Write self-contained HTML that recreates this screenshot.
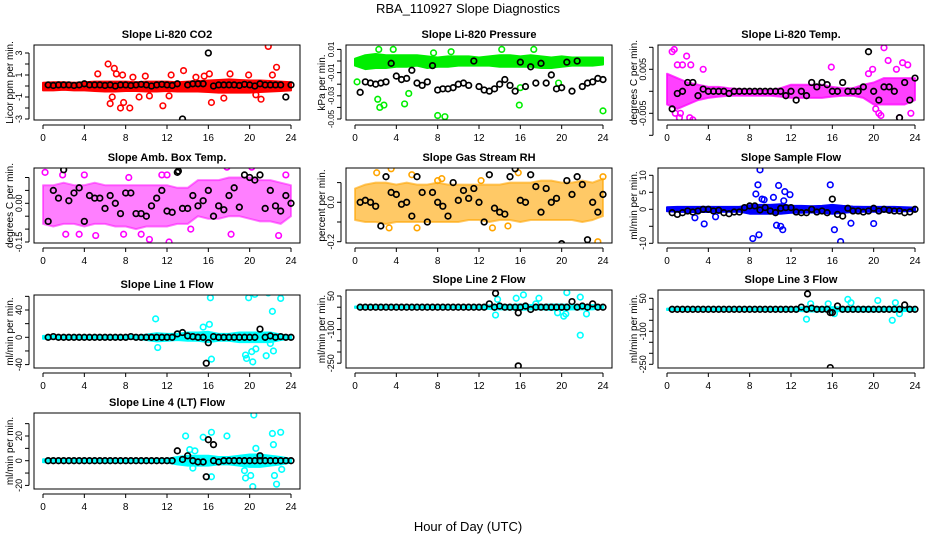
<!DOCTYPE html>
<html><head><meta charset="utf-8"><style>
html,body{margin:0;padding:0;background:#fff}
svg{display:block;font-family:"Liberation Sans",sans-serif}
</style></head><body>
<svg id="chart" width="936" height="540" viewBox="0 0 936 540">
<text x="468" y="13" text-anchor="middle" font-size="13">RBA_110927  Slope Diagnostics</text>
<text x="468" y="531" text-anchor="middle" font-size="13">Hour of Day (UTC)</text>
</svg>
<script>
// ---- shared data ----
const hoursBlack=[0.5,1,1.5,2,2.5,3,3.5,4,4.5,5,5.5,6,6.5,7,7.5,8,8.5,9,9.5,10,10.5,11,11.5,12,12.5,13,13.5,14,14.5,15,15.5,16,16.5,17,17.5,18,18.5,19,19.5,20,20.5,21,21.5,22,22.5,23,23.5,24];
const bandHours=[0,1,2,3,4,5,6,7,8,9,10,11,12,13,14,15,16,17,18,19,20,21,22,23,24];
const xTicks=[0,4,8,12,16,20,24];

// ---- CO2 ----
const co2Black=[0.1,0.05,0.1,0.1,0.1,0.05,0.1,0.2,0.1,0.1,0.1,0.05,0.1,0,0.1,0.1,0.05,0.1,0.15,0.1,0,0.1,0.15,0.1,0.05,0.2,-3,0.1,0.2,0.2,0.2,3,0,0.1,0.1,0.1,0.1,0.05,0.15,0.1,0,0.2,0.1,0.1,0.1,0.1,-1,0.1];
const co2Hi=[0.3,0.35,0.35,0.3,0.35,0.4,0.4,0.4,0.4,0.35,0.4,0.4,0.4,0.35,0.4,0.45,0.5,0.55,0.6,0.55,0.5,0.5,0.45,0.4,0.35];
const co2Lo=[-0.4,-0.4,-0.35,-0.4,-0.4,-0.45,-0.5,-0.5,-0.45,-0.45,-0.5,-0.5,-0.45,-0.5,-0.5,-0.5,-0.55,-0.6,-0.6,-0.6,-0.6,-0.55,-0.5,-0.45,-0.4];
const co2OutX=[5.3,6.3,6.5,6.7,6.9,7.1,7.5,7.8,7.7,8.4,8.7,9.3,9.9,10.3,11.6,12.2,12.4,13.6,15.6,16.1,16.3,17.5,18.1,19.9,20.6,21.1,21.8,22.6,22.2,14.8];
const co2OutY=[1.1,2,-1.6,-1,1.6,1.1,-2,-1.5,1,-2,0.8,-1,0.9,-0.9,-1.8,-0.9,1,1.4,0.9,1.1,-1.5,-1.1,1.1,1,-0.8,-1.2,3.6,1.7,1,0.8];
const co2BOutX=[];const co2BOutY=[];

// ---- Pressure ----
const prBlack=[-0.027,-0.018,-0.019,-0.02,-0.019,-0.018,-0.002,-0.013,-0.016,-0.015,-0.008,-0.019,-0.021,-0.018,-0.004,-0.025,-0.024,-0.024,-0.023,-0.02,-0.019,-0.021,0,-0.022,-0.025,-0.026,-0.024,-0.02,-0.016,-0.021,-0.026,-0.001,-0.022,-0.005,-0.019,-0.002,-0.019,-0.012,-0.024,-0.023,-0.001,-0.026,0,-0.022,-0.019,-0.018,-0.015,-0.016];
const prHi=[0.002,0.005,0.006,0.005,0.005,0.005,0.005,0.004,0.003,0.004,0.004,0.004,0.003,0.004,0.005,0.005,0.004,0.005,0.004,0.003,0.004,0.003,0.003,0.003,0.003];
const prLo=[-0.004,-0.007,-0.006,-0.006,-0.005,-0.005,-0.004,-0.006,-0.005,-0.005,-0.004,-0.004,-0.004,-0.004,-0.005,-0.005,-0.005,-0.005,-0.006,-0.006,-0.005,-0.004,-0.004,-0.004,-0.003];
const prOutX=[0.2,2.2,2.4,2.8,3.6,3.7,4.7,4.8,5.2,5.8,8,8.7,9.3,14.2,15.9,16,17.3,17.8,19.7,24,2.3,7.6];
const prOutY=[-0.018,-0.033,-0.04,-0.038,-0.054,0.01,0,-0.037,-0.028,0,-0.047,-0.048,0.008,0.01,-0.038,-0.023,0.01,-0.059,-0.019,-0.043,0.01,0.007];
const prBOutX=[];const prBOutY=[];

// ---- Li-820 Temp ----
const tpBlack=[-0.004,-0.0005,0,0.002,0.002,-0.001,0.0005,0,0,0,0,-0.0005,0,0,0,0,0,0,0,0,0,0,-0.001,0,-0.002,0,-0.001,0.002,0.001,0.002,0.0015,0,0,0.002,0,0,0,0.001,0.009,0,-0.002,0.001,0.001,0,-0.006,0.002,-0.002,0.003];
const tpHi=[0.004,0.003,0.002,0.0015,0.001,0.001,0.0007,0.0005,0.0003,0.0003,0.0003,0.0007,0.0015,0.0015,0.0015,0.0015,0.001,0.0007,0.0007,0.0015,0.002,0.003,0.003,0.003,0.003];
const tpLo=[-0.003,-0.004,-0.003,-0.002,-0.0015,-0.0012,-0.001,-0.001,-0.001,-0.001,-0.001,-0.0012,-0.0015,-0.0015,-0.0015,-0.0015,-0.0012,-0.001,-0.001,-0.0015,-0.003,-0.003,-0.003,-0.003,-0.002];
const tpOutX=[0.5,0.7,1,1.2,1.5,1.9,2.2,2.5,3.5,2.3,1.3,0.8,15.9,19.5,19.9,20.2,20.5,21,21.4,22.2,22.8,23.3,23.6,22.5,20.7];
const tpOutY=[0.009,0.0095,0.006,-0.006,0.006,0.008,-0.006,-0.0065,0.005,0.006,-0.005,-0.005,0.0055,0.004,0.005,-0.004,-0.005,0.0099,0.007,0.005,0.0065,0.006,-0.005,-0.006,-0.0055];
const tpBOutX=[];const tpBOutY=[];

// ---- Amb Box Temp ----
const amBlack=[-0.07,0.05,0.02,0.13,0.01,0.04,0.06,-0.07,0.03,0.02,0.02,-0.02,0.03,0,-0.04,0.04,0.04,-0.04,-0.04,-0.05,-0.01,0.02,0.05,-0.03,-0.035,0.12,-0.02,-0.02,0.03,-0.01,0.01,0.05,-0.05,-0.01,-0.025,0.03,0.06,-0.015,0.11,0.1,0.09,0.11,-0.02,0.05,-0.01,-0.03,0.03,0];
const amHi=[0.07,0.07,0.08,0.07,0.07,0.08,0.07,0.07,0.07,0.07,0.07,0.07,0.07,0.06,0.06,0.09,0.09,0.09,0.1,0.1,0.1,0.09,0.09,0.08,0.07];
const amLo=[-0.08,-0.09,-0.08,-0.08,-0.09,-0.08,-0.08,-0.09,-0.09,-0.1,-0.09,-0.09,-0.09,-0.08,-0.08,-0.05,-0.06,-0.06,-0.05,-0.05,-0.06,-0.07,-0.07,-0.08,-0.05];
const amOutX=[0.2,2.2,3.5,5.1,7.8,9.5,10.3,12.2,12,11.5,17.8,18.2,20.2,22.8,23.5,4,1.9,14.3,8.3];
const amOutY=[0.12,-0.12,-0.12,-0.125,-0.12,-0.12,-0.14,-0.15,0.11,0.11,0.14,-0.12,0.14,-0.125,0.11,0.11,0.11,-0.1,0.1];
const amBOutX=[13.1];const amBOutY=[0.125];

// ---- Gas Stream RH ----
const rhBlack=[0,0.01,0,-0.02,-0.12,0.13,0.05,0.04,-0.01,0,-0.07,0.13,0.05,-0.1,0.05,0,-0.02,-0.07,0.1,0.01,0.06,0.02,0.07,0,-0.1,0.14,-0.03,-0.05,-0.06,0.13,0.17,0.01,0,0.14,0.08,-0.05,0.07,0,0.02,-0.21,0.11,0.04,0.13,0.09,-0.19,0,-0.05,0.04];
const rhHi=[0.07,0.09,0.1,0.1,0.09,0.1,0.09,0.09,0.1,0.09,0.09,0.09,0.09,0.09,0.09,0.1,0.1,0.1,0.11,0.11,0.1,0.1,0.11,0.1,0.12];
const rhLo=[-0.09,-0.1,-0.1,-0.11,-0.1,-0.1,-0.1,-0.1,-0.1,-0.1,-0.1,-0.09,-0.09,-0.1,-0.09,-0.09,-0.1,-0.09,-0.09,-0.09,-0.09,-0.09,-0.1,-0.09,-0.07];
const rhOutX=[2.1,3.5,5.5,8,8.4,12.2,15.8,13.3,23.5,24,6,3.3,14.8];
const rhOutY=[0.15,0.17,0.14,0.11,0.12,0.11,0.15,-0.13,-0.2,0.13,-0.13,-0.13,-0.12];
const rhBOutX=[];const rhBOutY=[];

// ---- Sample Flow ----
const sfBlack=[-1,-1.5,-1,-0.5,-0.8,-0.5,0,0,-0.5,-0.3,-1,-1.3,-0.8,-0.8,0.5,1,1,-0.2,0.5,-0.5,-1,0.3,0.5,0.5,-0.8,-1,-1,0,-0.8,-0.5,-1,3,-1.5,-2,0.3,-0.5,-0.5,-0.8,-0.5,0.3,-0.5,0,-0.3,-0.5,-0.5,-1,-0.8,0];
const sfHi=[0.6,0.7,0.7,0.7,0.7,0.7,0.7,0.7,1.2,1.3,1.3,1.5,1,1,0.9,1,1.3,1,0.8,0.7,0.7,0.7,0.7,0.6,0.5];
const sfLo=[-0.6,-0.7,-0.8,-0.8,-0.8,-0.7,-0.7,-0.7,-1.3,-1.3,-1.3,-1.3,-1,-1,-0.9,-1,-1.3,-1,-0.8,-0.7,-0.7,-0.7,-0.6,-0.6,-0.5];
const sfOutX=[3.6,2.7,4.7,8.3,8.6,8.8,9,8.9,9.2,10.3,10.6,10.8,11,11.2,11.4,11.3,11.9,15.8,16.2,16.8,17.8,20,9.4];
const sfOutY=[-4.3,-2.5,-2.2,-8.6,4.5,7.2,11.6,-7.5,3,3.5,-4.7,7,-5,-6,5.2,2.5,4.3,7.2,-6,-9.5,-4.1,-4.2,2.8];
const sfBOutX=[];const sfBOutY=[];

// ---- Line 1 Flow ----
const l1Black=[0,1,0,0,0,0,0,0,0,0,0,0,0,0,0,0,1,0,0,0,0,0,0,0,0,5,7,2,1,0,0,-8,1,0,0,0,0,0,0,0,0,12,0,2,0,1,0,0];
const l1Hi=[2,2,2,2,2,2,2,2,2,2,4,6,5,5,7,7,8,5,5,7,7,7,7,4,2];
const l1Lo=[-2,-2,-2,-2,-2,-2,-2,-2,-2,-2,-4,-6,-5,-4,-5,-5,-7,-5,-5,-7,-7,-7,-7,-4,-2];
const l1OutX=[10.9,11.1,16.2,16.3,19.6,19.7,19.9,20.2,20.3,20.5,20.6,21.8,22,22.2,22.3,23,21.6,15.5,16.1];
const l1OutY=[27,-15,58,-32,-26,-31,58,-21,-36,63,-17,65,-9,38,-20,57,-27,15,19];
const l1BOutX=[15.8];const l1BOutY=[-38];

// ---- Line 2 Flow ----
const l2Black=[0,0,0,0,0,0,0,0,0,0,0,0,0,0,0,0,0,0,0,0,0,0,0,0,0,15,0,5,0,0,0,0,5,-10,0,0,0,0,0,0,0,25,0,5,0,15,0,0];
const l2Hi=[3,3,3,3,3,3,3,3,3,3,3,3,4,8,10,10,12,10,10,12,12,10,10,10,4];
const l2Lo=[-3,-3,-3,-3,-3,-3,-3,-3,-3,-3,-3,-3,-4,-8,-10,-10,-12,-10,-10,-12,-12,-10,-10,-10,-4];
const l2OutX=[13.6,13.8,15.6,16.3,17.8,19.6,20.2,20.4,20.5,21.8,21.8,22.4,17.5];
const l2OutY=[-35,35,40,55,40,-25,-40,-30,65,-125,45,-30,15];
const l2BOutX=[13.6,15.8,15.8];const l2BOutY=[62,-25,-262];

// ---- Line 3 Flow ----
const l3Black=[0,0,0,0,0,0,0,0,0,0,0,0,0,0,0,0,0,0,0,0,0,0,0,0,0,10,0,5,0,0,0,-15,15,0,0,0,0,0,0,0,0,0,0,0,0,20,0,0];
const l3Hi=[3,3,3,3,3,3,3,3,3,3,3,3,4,8,10,10,10,8,8,10,10,8,8,8,4];
const l3Lo=[-3,-3,-3,-3,-3,-3,-3,-3,-3,-3,-3,-3,-4,-8,-10,-10,-10,-8,-8,-10,-10,-8,-8,-8,-4];
const l3OutX=[13.5,13.9,15.6,17.5,17.8,20.4,21.8,22.1,22.5,16.2];
const l3OutY=[-45,25,25,45,30,40,-50,30,-20,-20];
const l3BOutX=[13.6,15.8,15.8];const l3BOutY=[70,-15,-265];

// ---- Line 4 Flow ----
const l4Black=[0,0,0,0,0,0,0,0,0,0,0,0,0,0,0,0,0,0,0,0,0,0,0,0,0,8,1,4,0,-1,-1,17,0,-1,0,0,0,0,0,0,0,0,0,0,0,0,0,0];
const l4Hi=[1.2,1.2,1.2,1.2,1.2,1.2,1.2,1.2,1.2,1.2,1.2,1.2,1.5,3,4,4,4,3,3,4,5,5,4,3,1.5];
const l4Lo=[-1.2,-1.2,-1.2,-1.2,-1.2,-1.2,-1.2,-1.2,-1.2,-1.2,-1.2,-1.2,-1.5,-3,-4,-4,-4,-3,-3,-4,-5,-5,-4,-3,-1.5];
const l4OutX=[13.8,14.2,14.7,16.3,16.3,15.5,17.8,19.5,19.6,20.1,20.3,20.4,20.6,22.2,22.3,22.4,22.6,23,23.1,14.5];
const l4OutY=[20,9,8,23,-13,19,20,-8,-14,-12,-21,37,10,22,13,-12,-19,23,-7,-6];
const l4BOutX=[15.8,16.5,21];const l4BOutY=[-13,13,4];

// ---- y ticks ----
const co2Ticks=[-3,-2,-1,0,1,2,3];const co2Labels=["-3","","-1","","1","","3"];
const prTicks=[0.01,0,-0.01,-0.02,-0.03,-0.04,-0.05];const prLabels=["0.01","","-0.01","","-0.03","","-0.05"];
const tpTicks=[0.01,0.005,0,-0.005,-0.01];const tpLabels=["","0.005","","-0.005",""];
const amTicks=[0.1,0.05,0,-0.05,-0.1,-0.15];const amLabels=["","","0.00","","","-0.15"];
const rhTicks=[0.1,0,-0.1,-0.2];const rhLabels=["","0.0","","-0.2"];
const sfTicks=[10,5,0,-5,-10];const sfLabels=["10","5","0","","-10"];
const l1Ticks=[60,40,20,0,-20,-40];const l1Labels=["","40","","0","","-40"];
const l2Ticks=[50,0,-50,-100,-150,-200,-250];const l2Labels=["50","","","-100","","","-250"];
const l4Ticks=[30,20,10,0,-10,-20];const l4Labels=["","20","","0","","-20"];

const panels=[
 {name:"co2",title:"Slope Li-820 CO2",ylab:"Licor ppm per min.",L:34,R:300,T:45,B:120,v0:0,p0:86,v1:3,p1:53,col:"#ff0000",op:1,fs:9,black:co2Black,hi:co2Hi,lo:co2Lo,ox:co2OutX,oy:co2OutY,bx:co2BOutX,by:co2BOutY,ticks:co2Ticks,labels:co2Labels},
 {name:"pressure",title:"Slope Li-820 Pressure",ylab:"kPa per min.",L:346,R:612,T:45,B:120,v0:0,p0:61,v1:-0.05,p1:119,col:"#00ee00",op:1,fs:8,black:prBlack,hi:prHi,lo:prLo,ox:prOutX,oy:prOutY,bx:prBOutX,by:prBOutY,ticks:prTicks,labels:prLabels},
 {name:"li820-temp",title:"Slope Li-820 Temp.",ylab:"degrees C per min.",L:658,R:924,T:45,B:120,v0:0,p0:91.3,v1:0.005,p1:69.3,col:"#ff00ff",op:0.75,fs:9,black:tpBlack,hi:tpHi,lo:tpLo,ox:tpOutX,oy:tpOutY,bx:tpBOutX,by:tpBOutY,ticks:tpTicks,labels:tpLabels},
 {name:"amb-box-temp",title:"Slope Amb. Box Temp.",ylab:"degrees C per min.",L:34,R:300,T:168,B:243,v0:0,p0:203.3,v1:0.05,p1:190.4,col:"#ff00ff",op:0.5,fs:9,black:amBlack,hi:amHi,lo:amLo,ox:amOutX,oy:amOutY,bx:amBOutX,by:amBOutY,ticks:amTicks,labels:amLabels},
 {name:"gas-stream-rh",title:"Slope Gas Stream RH",ylab:"percent per min.",L:346,R:612,T:168,B:243,v0:0,p0:202.3,v1:0.1,p1:182.6,col:"#ffa500",op:0.6,fs:9,black:rhBlack,hi:rhHi,lo:rhLo,ox:rhOutX,oy:rhOutY,bx:rhBOutX,by:rhBOutY,ticks:rhTicks,labels:rhLabels},
 {name:"sample-flow",title:"Slope Sample Flow",ylab:"ml/min per min.",L:658,R:924,T:168,B:243,v0:0,p0:209.3,v1:5,p1:192.3,col:"#0000ff",op:1,fs:9,black:sfBlack,hi:sfHi,lo:sfLo,ox:sfOutX,oy:sfOutY,bx:sfBOutX,by:sfBOutY,ticks:sfTicks,labels:sfLabels},
 {name:"line1-flow",title:"Slope Line 1 Flow",ylab:"ml/min per min.",L:34,R:300,T:295,B:368,v0:0,p0:337.3,v1:40,p1:310,col:"#00ffff",op:1,fs:9,black:l1Black,hi:l1Hi,lo:l1Lo,ox:l1OutX,oy:l1OutY,bx:l1BOutX,by:l1BOutY,ticks:l1Ticks,labels:l1Labels},
 {name:"line2-flow",title:"Slope Line 2 Flow",ylab:"ml/min per min.",L:346,R:612,T:290,B:368,v0:0,p0:307.2,v1:50,p1:296,col:"#00ffff",op:1,fs:9,black:l2Black,hi:l2Hi,lo:l2Lo,ox:l2OutX,oy:l2OutY,bx:l2BOutX,by:l2BOutY,ticks:l2Ticks,labels:l2Labels},
 {name:"line3-flow",title:"Slope Line 3 Flow",ylab:"ml/min per min.",L:658,R:924,T:290,B:368,v0:0,p0:309.3,v1:50,p1:298.3,col:"#00ffff",op:1,fs:9,black:l3Black,hi:l3Hi,lo:l3Lo,ox:l3OutX,oy:l3OutY,bx:l3BOutX,by:l3BOutY,ticks:l2Ticks,labels:l2Labels},
 {name:"line4-flow",title:"Slope Line 4 (LT) Flow",ylab:"ml/min per min.",L:34,R:300,T:413,B:489,v0:0,p0:460.7,v1:20,p1:436,col:"#00ffff",op:1,fs:9,black:l4Black,hi:l4Hi,lo:l4Lo,ox:l4OutX,oy:l4OutY,bx:l4BOutX,by:l4BOutY,ticks:l4Ticks,labels:l4Labels}
];

const NS="http://www.w3.org/2000/svg";
const svg=document.getElementById("chart");
function mk(tag,attrs,parent){const e=document.createElementNS(NS,tag);for(const k in attrs)e.setAttribute(k,attrs[k]);parent.appendChild(e);return e;}

panels.forEach(p=>{
  const g=mk("g",{},svg);
  
  
  const x0=p.L+9,x1=p.R-9;
  const xs=h=>x0+(x1-x0)*h/24;
  const ys=v=>p.p0+(v-p.v0)*(p.p1-p.p0)/(p.v1-p.v0);
  const clip="clip-"+p.name;
  const cp=mk("clipPath",{id:clip},g);
  mk("rect",{x:p.L,y:p.T,width:p.R-p.L,height:p.B-p.T},cp);
  const data=mk("g",{"clip-path":"url(#"+clip+")"},g);
  let d="";
  bandHours.forEach((h,i)=>{d+=(i?"L":"M")+xs(h).toFixed(1)+","+ys(p.hi[i]).toFixed(1);});
  for(let i=bandHours.length-1;i>=0;i--)d+="L"+xs(bandHours[i]).toFixed(1)+","+ys(p.lo[i]).toFixed(1);
  const band=mk("path",{d:d+"Z",fill:p.col,"fill-opacity":p.op,stroke:p.col,"stroke-width":2,"stroke-linejoin":"round","stroke-opacity":p.op},data);
  
  
  p.ox.forEach((h,i)=>{
    const c=mk("circle",{cx:xs(h),cy:ys(p.oy[i]),r:2.8,fill:"none",stroke:p.col,"stroke-width":1.6},data);
    
    
  });
  hoursBlack.forEach((h,i)=>{
    const c=mk("circle",{cx:xs(h),cy:ys(p.black[i]),r:2.8,fill:"none",stroke:"#000","stroke-width":1.7},data);
    
    
  });
  p.bx.forEach((h,i)=>{
    const c=mk("circle",{cx:xs(h),cy:ys(p.by[i]),r:2.8,fill:"none",stroke:"#000","stroke-width":1.7},data);
    
    
  });
  const box=mk("rect",{x:p.L,y:p.T,width:p.R-p.L,height:p.B-p.T,fill:"none",stroke:"#000","stroke-width":1},g);
  
  
  const t=mk("text",{x:(p.L+p.R)/2,y:p.T-7,"text-anchor":"middle","font-size":11,"font-weight":"bold"},g);
  t.textContent=p.title;
  
  
  const xa=mk("g",{stroke:"#000","stroke-width":1},g);
  
  
  const by=p.B+5;
  mk("line",{x1:xs(0),x2:xs(24),y1:by,y2:by},xa);
  xTicks.forEach(v=>{
    mk("line",{x1:xs(v),x2:xs(v),y1:by,y2:by+4},xa);
    const tl=mk("text",{x:xs(v),y:by+16,"text-anchor":"middle","font-size":10,stroke:"none"},g);
    tl.textContent=v;
    
    
  });
  const ya=mk("g",{stroke:"#000","stroke-width":1},g);
  
  
  const ax=p.L-5;
  mk("line",{x1:ax,x2:ax,y1:ys(p.ticks[0]),y2:ys(p.ticks[p.ticks.length-1])},ya);
  p.ticks.forEach((v,i)=>{
    const y=ys(v);
    mk("line",{x1:ax-4,x2:ax,y1:y,y2:y},ya);
    if(p.labels[i]){
      const tl=mk("text",{x:ax-7,y:y,"text-anchor":"middle","font-size":p.fs,transform:"rotate(-90 "+(ax-7)+" "+y+")",stroke:"none"},g);
      tl.textContent=p.labels[i];
      
      
    }
  });
  const yl=mk("text",{x:p.L-21,y:(p.T+p.B)/2,"text-anchor":"middle","font-size":10,transform:"rotate(-90 "+(p.L-21)+" "+(p.T+p.B)/2+")"},g);
  yl.textContent=p.ylab;
  
  
});
</script>
</body></html>
